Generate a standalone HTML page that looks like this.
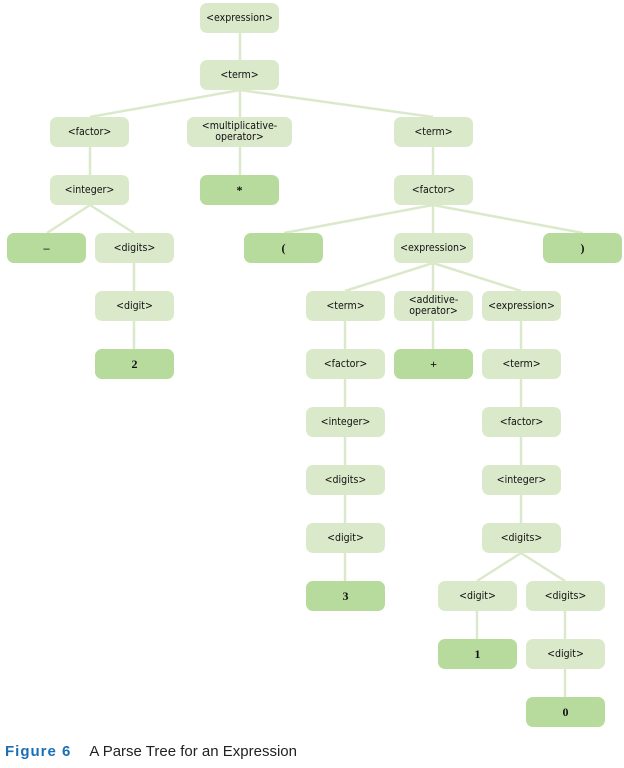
<!DOCTYPE html>
<html><head><meta charset="utf-8"><style>
body{margin:0;width:624px;height:768px;background:#fff;position:relative;overflow:hidden;font-family:"DejaVu Sans Condensed","Liberation Sans",sans-serif}
.n{position:absolute;width:79px;height:30px;border-radius:7px;background:#dbe9cb;display:flex;align-items:center;justify-content:center;text-align:center;font-size:10.5px;line-height:11px;color:#111}
.d{background:#b7da9d;font-weight:bold;font-family:"Liberation Serif",serif;font-size:12px}
svg{position:absolute;left:0;top:0}
.cap{position:absolute;left:5px;top:743px;font-size:15px;color:#222;font-family:"Liberation Sans",sans-serif}
.cap b{color:#1a6fb5;margin-right:18px;letter-spacing:1px}
</style></head><body>
<svg width="624" height="768"><g stroke="#dbe9cb" stroke-width="2.5" fill="none">
<line x1="240" y1="33" x2="240" y2="60"/>
<line x1="240" y1="90" x2="90" y2="117"/><line x1="240" y1="90" x2="240" y2="117"/><line x1="240" y1="90" x2="433" y2="117"/>
<line x1="90" y1="147" x2="90" y2="175"/><line x1="240" y1="147" x2="240" y2="175"/><line x1="433" y1="147" x2="433" y2="175"/>
<line x1="90" y1="205" x2="47" y2="233"/><line x1="90" y1="205" x2="134" y2="233"/>
<line x1="433" y1="205" x2="284" y2="233"/><line x1="433" y1="205" x2="433" y2="233"/><line x1="433" y1="205" x2="583" y2="233"/>
<line x1="134" y1="263" x2="134" y2="349"/>
<line x1="433" y1="263" x2="345" y2="291"/><line x1="433" y1="263" x2="433" y2="349"/><line x1="433" y1="263" x2="521" y2="291"/>
<line x1="345" y1="321" x2="345" y2="581"/>
<line x1="521" y1="321" x2="521" y2="523"/>
<line x1="521" y1="553" x2="477" y2="581"/><line x1="521" y1="553" x2="565" y2="581"/>
<line x1="477" y1="611" x2="477" y2="639"/>
<line x1="565" y1="611" x2="565" y2="697"/>
</g></svg>
<div class="n" style="left:200px;top:3px">&lt;expression&gt;</div>
<div class="n" style="left:200px;top:60px">&lt;term&gt;</div>
<div class="n" style="left:50px;top:117px">&lt;factor&gt;</div>
<div class="n" style="left:187px;top:117px;width:105px">&lt;multiplicative-<br>operator&gt;</div>
<div class="n" style="left:394px;top:117px">&lt;term&gt;</div>
<div class="n" style="left:50px;top:175px">&lt;integer&gt;</div>
<div class="n d" style="left:200px;top:175px">*</div>
<div class="n" style="left:394px;top:175px">&lt;factor&gt;</div>
<div class="n d" style="left:7px;top:233px">–</div>
<div class="n" style="left:95px;top:233px">&lt;digits&gt;</div>
<div class="n d" style="left:244px;top:233px">(</div>
<div class="n" style="left:394px;top:233px">&lt;expression&gt;</div>
<div class="n d" style="left:543px;top:233px">)</div>
<div class="n" style="left:95px;top:291px">&lt;digit&gt;</div>
<div class="n" style="left:306px;top:291px">&lt;term&gt;</div>
<div class="n" style="left:394px;top:291px">&lt;additive-<br>operator&gt;</div>
<div class="n" style="left:482px;top:291px">&lt;expression&gt;</div>
<div class="n d" style="left:95px;top:349px">2</div>
<div class="n" style="left:306px;top:349px">&lt;factor&gt;</div>
<div class="n d" style="left:394px;top:349px">+</div>
<div class="n" style="left:482px;top:349px">&lt;term&gt;</div>
<div class="n" style="left:306px;top:407px">&lt;integer&gt;</div>
<div class="n" style="left:482px;top:407px">&lt;factor&gt;</div>
<div class="n" style="left:306px;top:465px">&lt;digits&gt;</div>
<div class="n" style="left:482px;top:465px">&lt;integer&gt;</div>
<div class="n" style="left:306px;top:523px">&lt;digit&gt;</div>
<div class="n" style="left:482px;top:523px">&lt;digits&gt;</div>
<div class="n d" style="left:306px;top:581px">3</div>
<div class="n" style="left:438px;top:581px">&lt;digit&gt;</div>
<div class="n" style="left:526px;top:581px">&lt;digits&gt;</div>
<div class="n d" style="left:438px;top:639px">1</div>
<div class="n" style="left:526px;top:639px">&lt;digit&gt;</div>
<div class="n d" style="left:526px;top:697px">0</div>
<div class="cap"><b>Figure 6</b>A Parse Tree for an Expression</div>
</body></html>
